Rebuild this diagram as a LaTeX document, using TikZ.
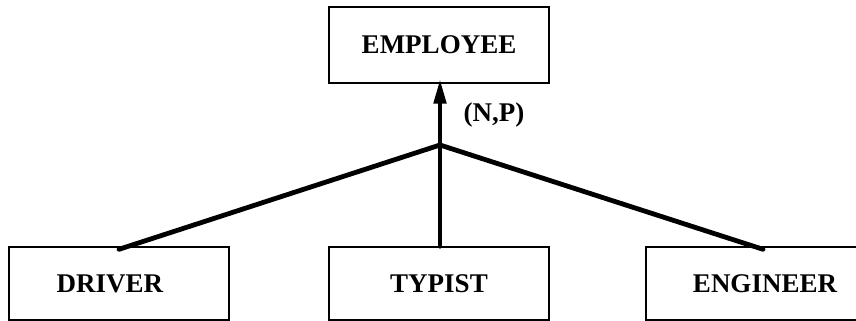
\documentclass[tikz,border=0pt]{standalone}
\usepackage{fontspec}
\setmainfont{Liberation Serif}
\usetikzlibrary{arrows.meta}
\begin{document}
\begin{tikzpicture}[x=1pt,y=-1pt,
  label text/.style={font=\fontsize{27}{30}\selectfont\bfseries},
  entity/.style={draw=black,line width=1.4pt,rectangle,minimum width=220pt,
    inner sep=0pt,label text},
  link/.style={line width=4.8pt,line cap=round},
  isa/.style={line width=4.8pt,-{Triangle[length=25pt,width=12pt]}}]
  \useasboundingbox (0,0) rectangle (856,321);
  \begin{scope}
    \clip (0,0) rectangle (856,321);
    % supertype
    \node[entity,minimum height=76pt] (employee) at (439,45) {\raisebox{-4pt}{EMPLOYEE}};
    % subtypes
    \node[entity,minimum height=73pt] (driver) at (119,283.5) {\hspace*{-18pt}DRIVER};
    \node[entity,minimum height=73pt] (typist) at (439,283.5) {TYPIST};
    \node[entity,minimum height=73pt] (engineer) at (756,283.5) {\hspace*{18pt}ENGINEER};
  \end{scope}
  % generalisation point
  \coordinate (gen) at (440,145);
  \draw[link] (gen) -- ([yshift=-3pt]driver.north);
  \draw[link] (gen) -- ([xshift=1pt]typist.north);
  \draw[link] (gen) -- ([xshift=7pt,yshift=-3pt]engineer.north);
  \draw[isa] (gen) -- ([xshift=1pt,yshift=5pt]employee.south);
  \node[label text,anchor=west] (cov) at (460,115) {(N,P)};
\end{tikzpicture}
\end{document}
